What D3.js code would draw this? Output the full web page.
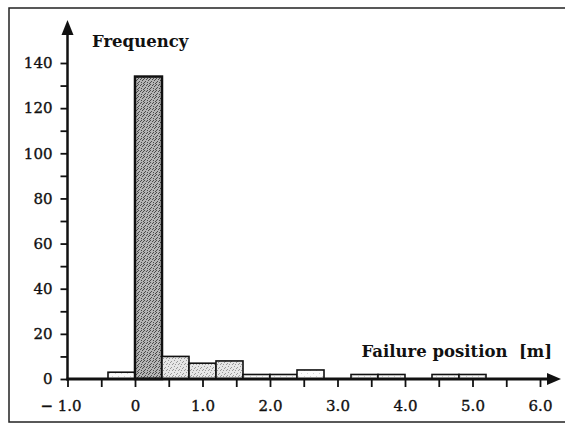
<!DOCTYPE html>
<html>
<head>
<meta charset="utf-8">
<script src="https://cdn.jsdelivr.net/npm/d3@7"></script>
<style>
  body { margin: 0; background: #fff; }
  text { font-family: "DejaVu Serif", serif; fill: #111; }
</style>
</head>
<body>
<div id="viz"></div>
<script>
// histogram of failure positions, bin width 0.4 m
var binStarts = [-0.4, 0, 0.4, 0.8, 1.2, 1.6, 2.0, 2.4, 2.8, 3.2, 3.6, 4.0, 4.4, 4.8];
var freqs     = [3, 134, 10, 7, 8, 2, 2, 4, 0, 2, 2, 0, 2, 2];
var shades    = ['light', 'dark', 'mid', 'mid', 'mid', 'light', 'light', 'light', 'light', 'light', 'light', 'light', 'light', 'light'];
var binWidth = 0.4;
var xTicks = [-1, 0, 1, 2, 3, 4, 5, 6];
var xTickLabels = ['\u2212 1.0', '0', '1.0', '2.0', '3.0', '4.0', '5.0', '6.0'];
var yTicks = [0, 20, 40, 60, 80, 100, 120, 140];

var svg = d3.select("#viz")
    .append("svg")
    .attr("width", 565)
    .attr("height", 426);

var x = d3.scaleLinear().domain([-1, 6]).range([67.5, 540]);
var y = d3.scaleLinear().domain([0, 140]).range([379, 63]);

// stipple patterns
var defs = svg.append('defs');
function stipple(id, bg, dots, col) {
    var p = defs.append('pattern')
        .attr('id', id)
        .attr('width', 6).attr('height', 6)
        .attr('patternUnits', 'userSpaceOnUse');
    p.append('rect').attr('width', 6).attr('height', 6).attr('fill', bg);
    dots.forEach(function(d) {
        p.append('rect').attr('x', d[0]).attr('y', d[1])
            .attr('width', 1).attr('height', 1).attr('fill', col);
    });
}
stipple('dark', '#b4b4b4', [[0, 0], [2, 1], [4, 2], [1, 3], [3, 4], [5, 5], [0, 4], [3, 0], [5, 1]], '#4a4a4a');
stipple('mid', '#e6e6e6', [[0, 0], [2, 2], [4, 4], [1, 4], [3, 1], [5, 3]], '#999');
stipple('light', '#fcfcfc', [[1, 1], [4, 4]], '#d4d4d4');

// frame
svg.append('rect')
    .attr('x', 9).attr('y', 8)
    .attr('width', 620).attr('height', 414)
    .attr('fill', 'none')
    .attr('stroke', '#222')
    .attr('stroke-width', 1.5);

// bars
svg.selectAll('.bar')
    .data(binStarts.map(function(b, i) { return {start: b, value: freqs[i], shade: shades[i]}; })
        .filter(function(d) { return d.value > 0; }))
    .enter().append('rect')
    .attr('class', 'bar')
    .attr('x', function(d) { return x(d.start); })
    .attr('width', function(d) { return x(d.start + binWidth) - x(d.start); })
    .attr('y', function(d) { return y(d.value); })
    .attr('height', function(d) { return y(0) - y(d.value); })
    .attr('fill', function(d) { return 'url(#' + d.shade + ')'; })
    .attr('stroke', '#111')
    .attr('stroke-width', function(d) { return d.value > 100 ? 2.5 : 1.6; });

// y axis
var yAxis = svg.append('g')
    .attr('transform', 'translate(' + x(-1) + ',0)')
    .call(d3.axisLeft(y)
        .tickValues(d3.range(0, 141, 10))
        .tickSize(7)
        .tickPadding(8)
        .tickFormat(function(d) { return yTicks.indexOf(d) >= 0 ? d : ''; }));
yAxis.select('.domain').remove();
yAxis.selectAll('line').attr('stroke', '#111').attr('stroke-width', 1.8);
yAxis.selectAll('text')
    .attr('font-size', 15)
    .attr('font-family', '"DejaVu Serif", serif')
    .attr('fill', '#111')
    .attr('stroke', '#111')
    .attr('stroke-width', 0.35);

svg.append('line')
    .attr('x1', x(-1)).attr('x2', x(-1))
    .attr('y1', y(0) + 1.5).attr('y2', 30)
    .attr('stroke', '#111').attr('stroke-width', 2.5);
svg.append('path')
    .attr('d', 'M' + x(-1) + ',20 L' + (x(-1) - 6) + ',35 L' + (x(-1) + 6) + ',35 Z')
    .attr('fill', '#111');

// x axis
var xAxis = svg.append('g')
    .attr('transform', 'translate(0,' + y(0) + ')')
    .call(d3.axisBottom(x)
        .tickValues(d3.range(-1, 6.01, 0.5))
        .tickSize(8)
        .tickFormat(function(d) {
            var i = xTicks.indexOf(d);
            return i >= 0 ? xTickLabels[i] : '';
        }));
xAxis.select('.domain').remove();
xAxis.selectAll('line').attr('stroke', '#111').attr('stroke-width', 1.8);
xAxis.selectAll('text')
    .attr('font-size', 15)
    .attr('font-family', '"DejaVu Serif", serif')
    .attr('fill', '#111')
    .attr('stroke', '#111')
    .attr('stroke-width', 0.35)
    .attr('y', 32)
    .attr('dy', 0)
    .attr('dx', function(d) { return d === -1 ? -7 : 0; });

svg.append('line')
    .attr('x1', x(-1) - 1).attr('x2', 552)
    .attr('y1', y(0)).attr('y2', y(0))
    .attr('stroke', '#111').attr('stroke-width', 3);
svg.append('path')
    .attr('d', 'M561,' + y(0) + ' L547,' + (y(0) - 6) + ' L547,' + (y(0) + 6) + ' Z')
    .attr('fill', '#111');

// axis titles
svg.append('text')
    .attr('x', 92).attr('y', 47)
    .attr('font-size', 16.5)
    .attr('font-weight', 'bold')
    .text('Frequency');

svg.append('text')
    .attr('x', 552).attr('y', 357)
    .attr('text-anchor', 'end')
    .attr('font-size', 16.5)
    .attr('font-weight', 'bold')
    .style('white-space', 'pre')
    .text('Failure position  [m]');
</script>
</body>
</html>
